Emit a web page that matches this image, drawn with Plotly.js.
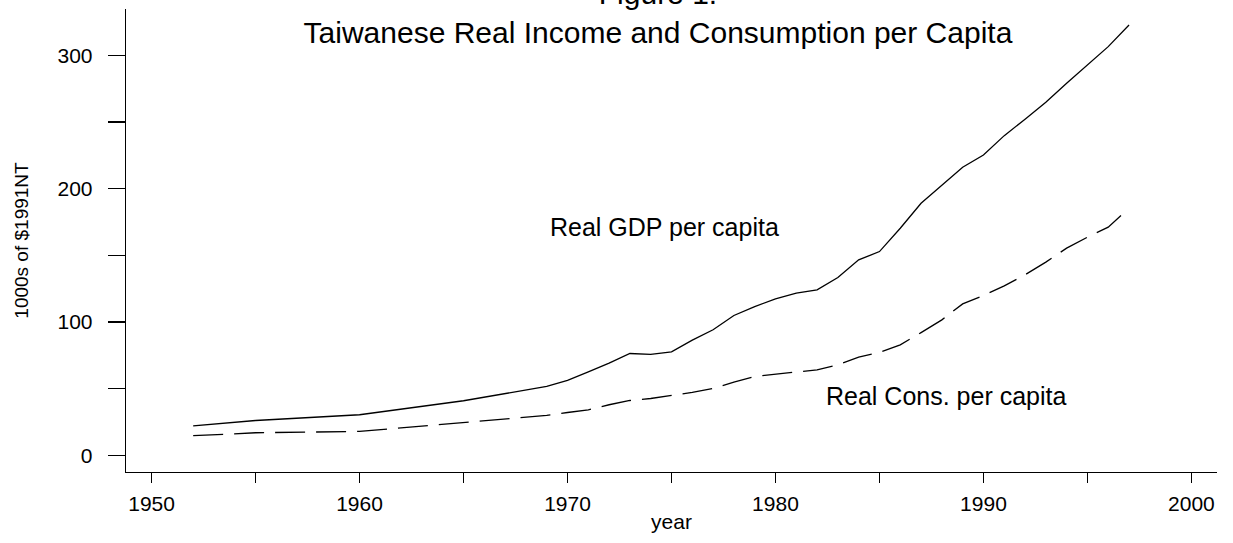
<!DOCTYPE html>
<html>
<head>
<meta charset="utf-8">
<script src="https://cdn.plot.ly/plotly-3.0.1.min.js"></script>
<style>html,body{margin:0;padding:0;background:#fff;}#chart{width:1233px;height:543px;}</style>
</head>
<body>
<div id="chart"></div>
<script>
// Data (1000s of 1991 NT$)
const years = [1952,1955,1960,1965,1969,1970,1971,1972,1973,1974,1975,1976,1977,1978,1979,1980,1981,1982,1983,1984,1985,1986,1987,1988,1989,1990,1991,1992,1993,1994,1995,1996,1997];
const gdpPerCapita = [22.2,26.2,30.5,41.0,51.7,56.2,62.7,69.2,76.4,75.7,77.7,86.4,94.2,104.9,111.6,117.4,121.6,124.1,133.3,146.6,152.8,170.3,189.0,202.8,216.0,225.2,239.7,252.0,264.7,278.9,292.6,306.4,322.6];
const consPerCapita = [14.8,17.0,18.0,24.7,30.0,32.2,34.2,38.0,41.2,42.7,44.7,47.2,50.2,55.0,59.2,61.0,62.7,64.2,67.9,73.7,77.2,82.9,92.1,101.6,113.6,119.9,127.1,135.4,144.9,155.4,163.6,171.1,185.3];

const xTickVals = [1950,1955,1960,1965,1970,1975,1980,1985,1990,1995,2000];
const xTickText = ['1950','','1960','','1970','','1980','','1990','','2000'];
const yTickVals = [0,50,100,150,200,250,300];
const yTickText = ['0','','100','','200','','300'];

const seriesNames = ['Real GDP per capita','Real Cons. per capita'];
const titleText = 'Figure 1.<br>Taiwanese Real Income and Consumption per Capita';

const FONT = 'Liberation Sans, Arial, Helvetica, sans-serif';

const traces = [
  {x: years, y: gdpPerCapita, type: 'scatter', mode: 'lines', name: seriesNames[0],
   line: {color: '#000', width: 1.3}},
  {x: years, y: consPerCapita, type: 'scatter', mode: 'lines', name: seriesNames[1],
   line: {color: '#000', width: 1.3, dash: '30px,11px'}}
];

const layout = {
  width: 1233, height: 543,
  paper_bgcolor: '#fff', plot_bgcolor: '#fff',
  showlegend: false,
  margin: {l: 126, r: 16, t: 9, b: 71},
  font: {family: FONT, color: '#000'},
  title: {text: titleText, font: {family: FONT, size: 30, color: '#000'},
          x: 0.4876, xref: 'paper', xanchor: 'center', y: 1, yref: 'container', yanchor: 'top', pad: {t: 4}},
  xaxis: {
    range: [1948.77, 2001.23], showgrid: false, zeroline: false,
    showline: true, linecolor: '#000', linewidth: 1.3,
    ticks: 'outside', ticklen: 10, tickwidth: 1.3, tickcolor: '#000',
    tickvals: xTickVals, ticktext: xTickText,
    tickfont: {family: FONT, size: 21, color: '#000'},
    ticklabelstandoff: 2,
    title: {text: 'year', font: {family: FONT, size: 21, color: '#000'}, standoff: 0}
  },
  yaxis: {
    range: [-12.4, 334.6], showgrid: false, zeroline: false,
    showline: true, linecolor: '#000', linewidth: 1.3,
    ticks: 'outside', ticklen: 17, tickwidth: 1.3, tickcolor: '#000',
    tickvals: yTickVals, ticktext: yTickText,
    tickfont: {family: FONT, size: 21, color: '#000'},
    ticklabelstandoff: 11,
    title: {text: '1000s of $1991NT', font: {family: FONT, size: 19, color: '#000'}, standoff: 23}
  },
  annotations: [
    {x: 1974.65, y: 171.5, xref: 'x', yref: 'y', text: seriesNames[0], showarrow: false,
     xanchor: 'center', yanchor: 'middle', font: {family: FONT, size: 25, color: '#000'}},
    {x: 1988.2, y: 44.5, xref: 'x', yref: 'y', text: seriesNames[1], showarrow: false,
     xanchor: 'center', yanchor: 'middle', font: {family: FONT, size: 25, color: '#000'}}
  ]
};

Plotly.newPlot('chart', traces, layout, {displayModeBar: false, staticPlot: true});
</script>
</body>
</html>
